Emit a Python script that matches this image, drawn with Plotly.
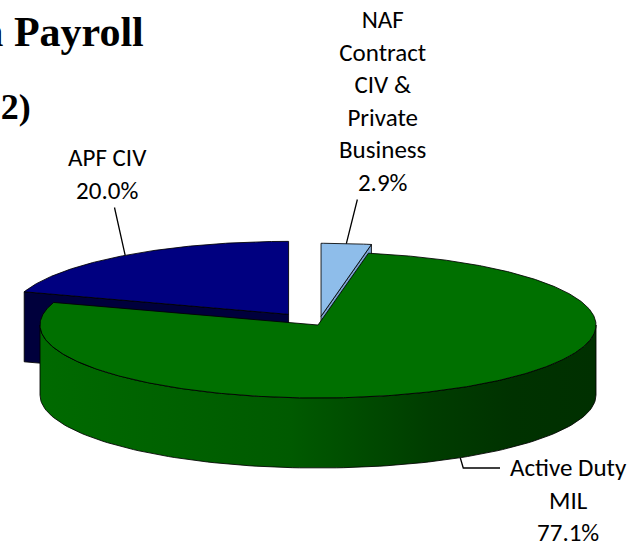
import numpy as np
import plotly.graph_objects as go

# data
categories = ["APF CIV", "NAF Contract CIV & Private Business", "Active Duty MIL"]
label_lines = [["APF CIV"], ["NAF", "Contract", "CIV &", "Private", "Business"], ["Active Duty", "MIL"]]
shares = [20.0, 2.9, 77.1]

# look of the 3-D pie (pixel space, y grows downwards)
CX, CY = 318, 325
RX, RY = 278, 73
DEPTH = 70
START = 162  # first slice angle, slices run clockwise
EXPLODE = [0.18, 0.12, 0.0]
TOP = ["#000080", "#8EBDEA", "#007000"]
FACE = ["#00003C", "#7BA3D0", "#005A00"]
WALL = [
    [[0, "#00003C"], [1, "#00003C"]],
    [[0, "#7BA3D0"], [1, "#7BA3D0"]],
    [[0, "#006A00"], [0.45, "#005A00"], [0.7, "#003D00"], [0.85, "#003200"], [1, "#003000"]],
]
EDGE = dict(color="rgba(0,0,0,0.85)", width=1)

# label positions (pixels)
LABEL_POS = [(107, 174), (382, 101), (568, 500)]


def pt(ox, oy, deg, drop=0.0):
    t = np.radians(deg)
    return ox + RX * np.cos(t), oy - RY * np.sin(t) + drop


def poly(xs, ys, color, grad=None):
    kw = dict(fillcolor=color) if grad is None else dict(
        fillgradient=dict(type="horizontal", colorscale=grad)
    )
    return go.Scatter(
        x=list(xs) + [xs[0]], y=list(ys) + [ys[0]], mode="lines", fill="toself",
        line=EDGE, hoverinfo="skip", showlegend=False, **kw
    )


fig = go.Figure()
anchors = []
total = sum(shares)
t0 = START
for i, v in enumerate(shares):
    span = 360 * v / total
    t1 = t0 - span
    mid = (t0 + t1) / 2
    ox = CX + EXPLODE[i] * RX * np.cos(np.radians(mid))
    oy = CY - EXPLODE[i] * RY * np.sin(np.radians(mid))

    # radial cut faces that look towards the viewer
    for edge, normal in ((t0, t0 + 90), (t1, t1 - 90)):
        if np.sin(np.radians(normal)) < 0:
            ex, ey = pt(ox, oy, edge)
            fig.add_trace(poly([ox, ex, ex, ox], [oy, ey, ey + DEPTH, oy + DEPTH], FACE[i]))

    # outer wall, front half only
    lo, hi = max(t1, -180), min(t0, 0)
    if lo < hi:
        th = np.linspace(hi, lo, 120)
        xa, ya = pt(ox, oy, th)
        xb, yb = pt(ox, oy, th[::-1], DEPTH)
        fig.add_trace(poly(np.r_[xa, xb], np.r_[ya, yb], WALL[i][0][1], WALL[i]))

    # top face
    th = np.linspace(t0, t1, max(int(span * 2), 8))
    xa, ya = pt(ox, oy, th)
    fig.add_trace(poly(np.r_[ox, xa], np.r_[oy, ya], TOP[i]))

    # where the leader line meets the slice
    if np.sin(np.radians(mid)) < 0:
        anchors.append(pt(ox, oy, mid, DEPTH))
    else:
        anchors.append(pt(ox, oy, mid))
    t0 = t1

label_font = dict(family="Carlito, Lato, sans-serif", size=25, color="black")
for i, v in enumerate(shares):
    text = "<br>".join(label_lines[i] + [f"{v:.1f}%"])
    lx, ly = LABEL_POS[i]
    ax_, ay_ = anchors[i]
    if i == 2:
        fig.add_annotation(x=lx, y=ly, text=text, showarrow=False, font=label_font)
        fig.add_trace(go.Scatter(
            x=[ax_, ax_ + 3, lx - 68], y=[ay_, 468, 468], mode="lines",
            line=dict(color="black", width=1.3), hoverinfo="skip", showlegend=False
        ))
    else:
        fig.add_annotation(
            x=ax_, y=ay_, ax=lx, ay=ly, axref="x", ayref="y", text=text,
            showarrow=True, arrowhead=0, arrowwidth=1.3, arrowcolor="black",
            font=label_font, standoff=0
        )

serif = "Liberation Serif, Times New Roman, serif"
fig.add_annotation(x=146, y=32, text="<b>Installation Payroll</b>", showarrow=False,
                   xanchor="right", font=dict(family=serif, size=42, color="black"))
fig.add_annotation(x=33, y=107, text="<b>(FY 2012)</b>", showarrow=False,
                   xanchor="right", font=dict(family=serif, size=36, color="black"))

fig.update_layout(
    width=640, height=542, margin=dict(l=0, r=0, t=0, b=0),
    paper_bgcolor="white", plot_bgcolor="white",
    xaxis=dict(range=[0, 640], visible=False, fixedrange=True),
    yaxis=dict(range=[542, 0], visible=False, fixedrange=True),
    showlegend=False,
)
fig.write_html(
    "out.html",
    config={"displayModeBar": False},
    post_script="document.body.style.margin='0';",
)
